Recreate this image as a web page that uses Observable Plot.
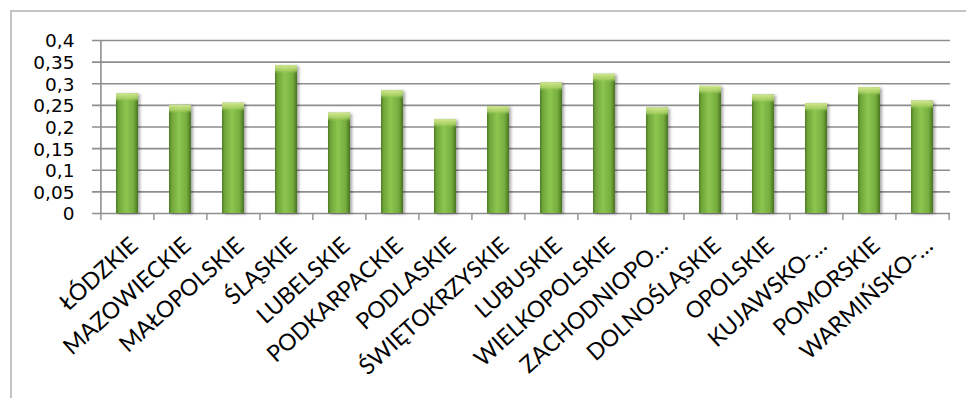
<!DOCTYPE html>
<html>
<head>
<meta charset="utf-8">
<script src="https://cdn.jsdelivr.net/npm/d3@7"></script>
<script src="https://cdn.jsdelivr.net/npm/@observablehq/plot@0.6"></script>
<style>
  html, body { margin: 0; padding: 0; background: #fff; }
  #wrap { position: relative; width: 966px; height: 398px; overflow: hidden; }
  #frame { position: absolute; left: 10px; top: 10px; right: -4px; bottom: -4px;
           border-left: 2px solid #c4c4c4; border-top: 2px solid #c4c4c4; pointer-events: none; }
</style>
</head>
<body>
<div id="wrap"><div id="frame"></div></div>
<script>
const categories = ["ŁÓDZKIE", "MAZOWIECKIE", "MAŁOPOLSKIE", "ŚLĄSKIE", "LUBELSKIE", "PODKARPACKIE",
  "PODLASKIE", "ŚWIĘTOKRZYSKIE", "LUBUSKIE", "WIELKOPOLSKIE", "ZACHODNIOPO…", "DOLNOŚLĄSKIE",
  "OPOLSKIE", "KUJAWSKO-…", "POMORSKIE", "WARMIŃSKO-…"];
const values = [0.277, 0.250, 0.255, 0.342, 0.232, 0.284, 0.217, 0.247, 0.302, 0.322,
  0.244, 0.294, 0.274, 0.254, 0.291, 0.260];
const yTicks = [0, 0.05, 0.1, 0.15, 0.2, 0.25, 0.3, 0.35, 0.4];
const yTickLabels = ["0", "0,05", "0,1", "0,15", "0,2", "0,25", "0,3", "0,35", "0,4"];

const data = categories.map((c, i) => ({cat: c, value: values[i]}));

const W = 966, H = 398, mL = 99, mR = 16;
const step = (W - mL - mR) / categories.length;

const chart = Plot.plot({
  width: W, height: H,
  marginLeft: mL, marginRight: mR, marginTop: 40, marginBottom: 185,
  style: {fontFamily: "Lato, sans-serif", background: "transparent", color: "#000"},
  x: {domain: categories, paddingInner: 0.59, paddingOuter: 0.295, axis: null, label: null},
  y: {domain: [0, 0.4], axis: null, label: null},
  marks: [
    Plot.ruleY(yTicks, {stroke: "#8e8e8e", strokeWidth: 1.6, insetLeft: -7}),
    Plot.ruleX([categories[0]], {stroke: "#8e8e8e", strokeWidth: 1.6, dx: -step / 2}),
    Plot.ruleX(categories, {y1: 0, y2: 0, insetBottom: -7, stroke: "#8e8e8e", strokeWidth: 1.4, dx: -step / 2}),
    Plot.ruleX([categories[categories.length - 1]], {y1: 0, y2: 0, insetBottom: -7, stroke: "#8e8e8e", strokeWidth: 1.4, dx: step / 2}),
    Plot.text(yTicks, {y: d => d, text: (d, i) => yTickLabels[i], frameAnchor: "left", textAnchor: "end",
      dx: -25, dy: 1, fontSize: 18.5, fontFamily: "DejaVu Sans", fill: "#000"}),
    Plot.barY(data, {x: "cat", y: "value", fill: "url(#barGrad)"}),
    Plot.barY(data, {x: "cat", y1: d => d.value - 0.02, y2: "value", fill: "url(#capGrad)"}),
    Plot.text(categories, {x: d => d, text: d => d, frameAnchor: "bottom", textAnchor: "end", lineAnchor: "top",
      rotate: -42, dx: 1, dy: 22, fontSize: 23, fontFamily: "Lato", fill: "#000"})
  ]
});

const svg = d3.select(chart);
svg.insert("defs", ":first-child").html(`
  <linearGradient id="barGrad" x1="0" x2="1" y1="0" y2="0">
    <stop offset="0" stop-color="#4e7a24"/>
    <stop offset="0.12" stop-color="#6fa53a"/>
    <stop offset="0.45" stop-color="#8dc650"/>
    <stop offset="0.8" stop-color="#76ad3f"/>
    <stop offset="1" stop-color="#4a7322"/>
  </linearGradient>
  <linearGradient id="capGrad" x1="0" x2="0" y1="0" y2="1">
    <stop offset="0" stop-color="#d2e890"/>
    <stop offset="0.6" stop-color="#b2d66c" stop-opacity="0.8"/>
    <stop offset="1" stop-color="#8cc44e" stop-opacity="0"/>
  </linearGradient>
  <filter id="shadow" x="-30%" y="-10%" width="160%" height="120%">
    <feDropShadow dx="2" dy="1" stdDeviation="1.8" flood-color="#000" flood-opacity="0.35"/>
  </filter>
`);
svg.selectAll('g[aria-label="bar"]').filter((d, i) => i === 0).attr("filter", "url(#shadow)");

document.getElementById("wrap").prepend(chart);
</script>
</body>
</html>
